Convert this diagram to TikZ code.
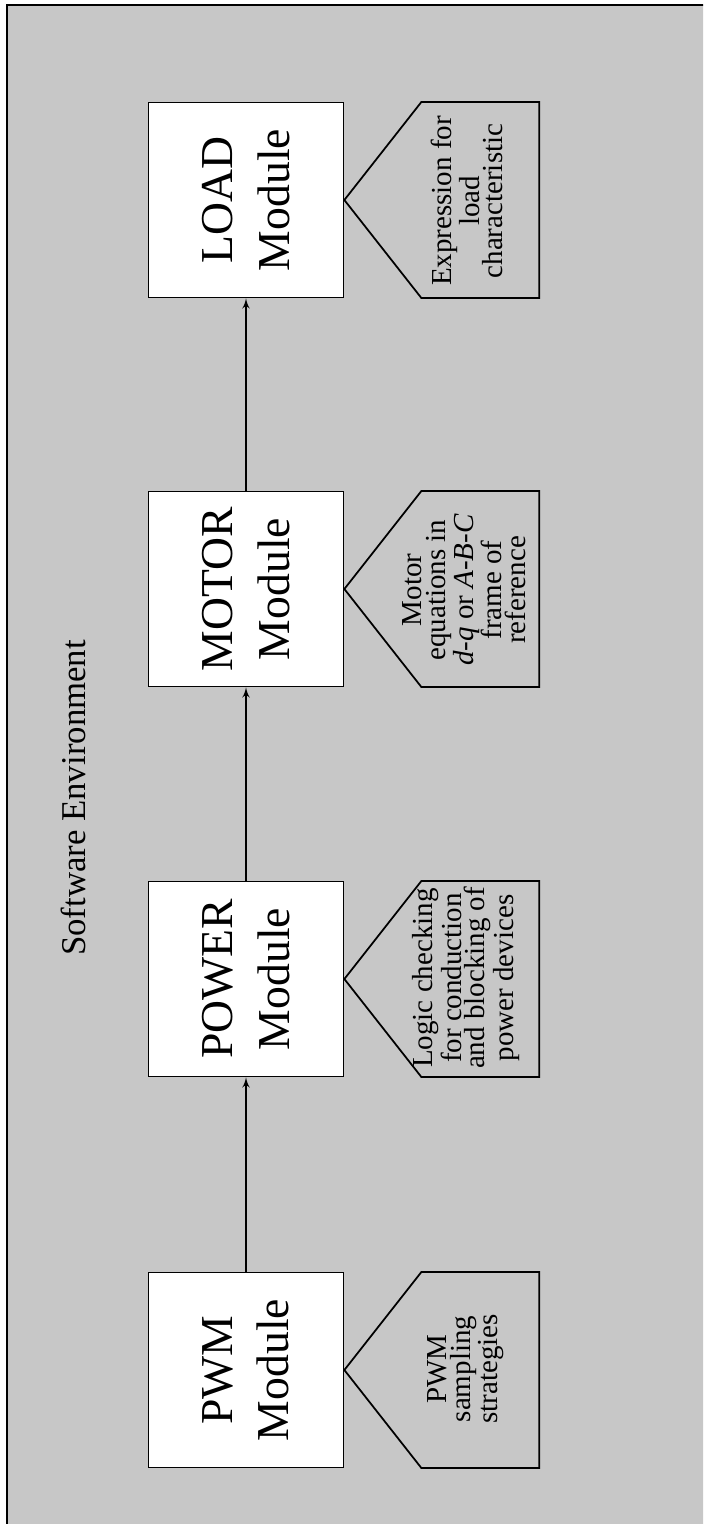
\documentclass[tikz,border=0pt]{standalone}
\usepackage{fontspec}
\setmainfont{Liberation Serif}
\usetikzlibrary{arrows}

\begin{document}
\begin{tikzpicture}[x=0.02cm,y=-0.02cm]

\tikzset{module/.style = {shape=rectangle,draw,fill=white,line width=1pt,rotate=90,minimum size=3.9cm,align=center,font=\fontsize{26}{32}\selectfont}}
\tikzset{note/.style = {rotate=90,align=center,font=\fontsize{16.5}{13.5}\selectfont}}
\tikzset{tag/.style = {draw,line width=1pt}}
\tikzset{edge/.style = {->,> = latex',line width=1pt}}
\clip (0,0) rectangle (703,1524);
% environment frame
\draw[fill=black!22,line width=1pt] (7,5) rectangle (720,1540);
\node[rotate=90,font=\fontsize{19.8}{24}\selectfont] (env) at (73,798) {Software Environment};
% modules
\node[module] (pwm) at  (246,1370) {PWM\\Module};
\node[module] (power) at  (246,979) {POWER\\Module};
\node[module] (motor) at  (246,589) {MOTOR\\Module};
\node[module] (load) at  (246,200) {LOAD\\Module};
% notes
\draw[tag] (pwm.south) -- ++(77,-98) -- ++(118,0) -- ++(0,196) -- ++(-118,0) -- cycle;
\draw[tag] (power.south) -- ++(77,-98) -- ++(118,0) -- ++(0,196) -- ++(-118,0) -- cycle;
\draw[tag] (motor.south) -- ++(77,-98) -- ++(118,0) -- ++(0,196) -- ++(-118,0) -- cycle;
\draw[tag] (load.south) -- ++(77,-98) -- ++(118,0) -- ++(0,196) -- ++(-118,0) -- cycle;
\node[note] (pwmnote) at (466,1369) {PWM\\sampling\\strategies};
\node[note] (powernote) at (466,978) {Logic checking\\for conduction\\and blocking of\\power devices};
\node[note] (motornote) at (464,590) {Motor\\equations in\\\textit{d-q} or \textit{A-B-C}\\frame of\\reference};
\node[note] (loadnote) at (467,201) {Expression for\\load\\characteristic};
%edges
\draw[edge] (pwm) to (power);
\draw[edge] (power) to (motor);
\draw[edge] (motor) to (load);
\end{tikzpicture}
\end{document}
